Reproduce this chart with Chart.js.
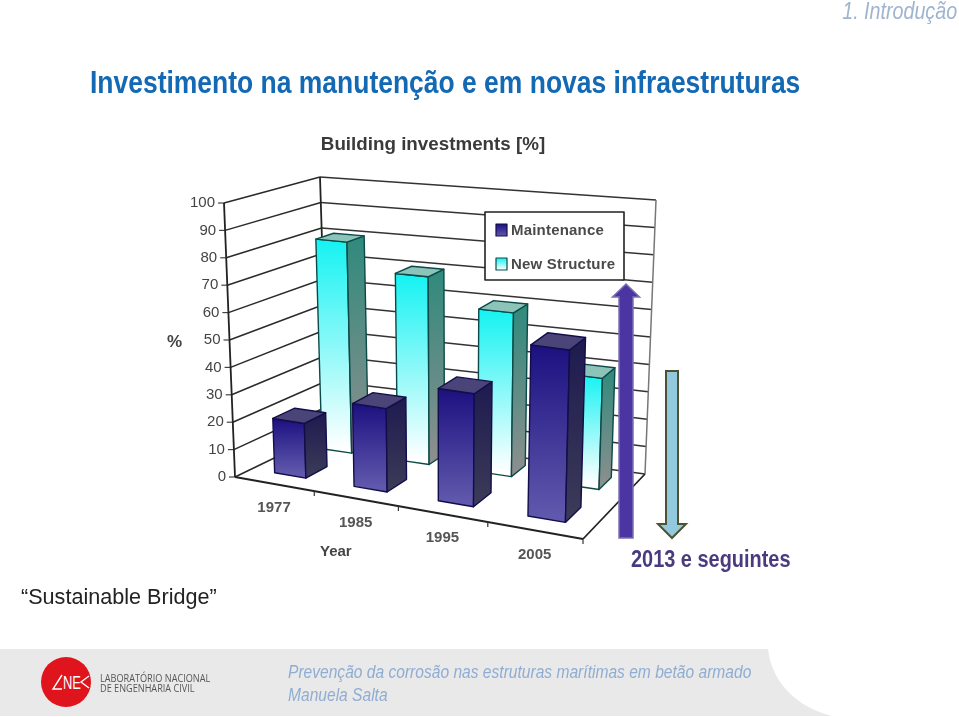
<!DOCTYPE html>
<html>
<head>
  <meta charset="UTF-8" />
  <title>Investimento na manutenção e em novas infraestruturas</title>
  <script src="https://cdn.jsdelivr.net/npm/chart.js"></script>
  <style>
    html, body { margin: 0; padding: 0; background: white; overflow: hidden; width: 959px; height: 717px; }
    body { position: relative; font-family: 'Liberation Sans', Arial, sans-serif; }
    .txt { position: absolute; white-space: nowrap; line-height: 1; }
    /* no narrow font installed, so squeeze Liberation Sans instead */
    .narrow { transform: scaleX(0.82); transform-origin: left center; }
    #section { right: 2px; top: -1px; font-size: 24px; font-style: italic; color: #9fb4cf; transform-origin: right center; }
    #heading { left: 90px; top: 66px; font-size: 32px; font-weight: bold; color: #1369b4; transform: scaleX(0.827); }
    #quote { left: 21px; top: 586px; font-size: 21.6px; color: #222; }
    #future { left: 631px; top: 547px; font-size: 24.3px; font-weight: bold; color: #4a3b7f; }
    #band { position: absolute; left: 0; top: 649px; width: 959px; height: 68px; }
    #talk { left: 288px; top: 662px; font-size: 19px; font-style: italic; color: #8fadd3; }
    #author { left: 288px; top: 685px; font-size: 19px; font-style: italic; color: #8fadd3; }
    #lab1, #lab2 { left: 100px; font-size: 10.5px; color: #555; font-family: 'Open Sans', sans-serif; transform: scaleX(0.87); transform-origin: left center; }
    #lab1 { top: 673px; }
    #lab2 { top: 683px; }
    #scoreChart { position: absolute; left: 0; top: 0; filter: blur(0.45px); }
    #shapes { position: absolute; left: 0; top: 0; }
  </style>
</head>
<body>
  <svg id="band" viewBox="0 649 959 68">
    <path d="M0 649 H768 C772 685 800 708 832 716 H0 Z" fill="#e9e9e9" />
    <circle cx="66" cy="682" r="25" fill="#e0141c" />
    <path d="M62 675 L53 689 H62 M89 676 L81 682 L89 688" fill="none" stroke="white" stroke-width="1.4" />
    <text x="63" y="689" font-family="Liberation Sans" font-size="19" fill="white" textLength="18" lengthAdjust="spacingAndGlyphs">NE</text>
  </svg>
  <canvas id="scoreChart" width="866" height="600"></canvas>
  <svg id="shapes" width="959" height="717">
    <path d="M619 538 V297 H612.5 L626 284 L639.5 297 H633 V538 Z" fill="#4a35a2" stroke="#7f6fb2" stroke-width="1.5" />
    <path d="M666 371 H678 V524 H686 L672 538 L658 524 H666 Z" fill="#92c9dd" stroke="#4d5233" stroke-width="2" />
  </svg>
  <div class="txt narrow" id="section">1. Introdução</div>
  <div class="txt narrow" id="heading">Investimento na manutenção e em novas infraestruturas</div>
  <div class="txt" id="quote">“Sustainable Bridge”</div>
  <div class="txt narrow" id="future">2013 e seguintes</div>
  <div class="txt narrow" id="talk">Prevenção da corrosão nas estruturas marítimas em betão armado</div>
  <div class="txt narrow" id="author">Manuela Salta</div>
  <div class="txt" id="lab1">LABORATÓRIO NACIONAL</div>
  <div class="txt" id="lab2">DE ENGENHARIA CIVIL</div>

  <script>
    const years = ['1977', '1985', '1995', '2005'];
    const maintenance = [20, 30, 40, 60];
    const newStructure = [80, 70, 60, 40];
    const yTicks = [0, 10, 20, 30, 40, 50, 60, 70, 80, 90, 100];

    // corners of the 3D box on the page, front/back, left/right, value 0 and 100
    const box = {
      fl0: [235, 477], fl1: [224, 203], bl0: [328, 432], bl1: [320, 177],
      br0: [645, 474], br1: [656, 200], fr0: [583, 539], fr1: [591, 247]
    };
    const lerp = (a, b, t) => [a[0] + (b[0] - a[0]) * t, a[1] + (b[1] - a[1]) * t];

    // u across the years, v up the value axis, w into the picture
    function project(u, v, w) {
      const p = u / (u + (1 - u) * 1.13);   // foreshortening of the year axis
      const front = lerp(lerp(box.fl0, box.fl1, v), lerp(box.fr0, box.fr1, v), p);
      const back = lerp(lerp(box.bl0, box.bl1, v), lerp(box.br0, box.br1, v), p);
      return lerp(front, back, w);
    }

    function poly(ctx, pts, fill, stroke) {
      ctx.beginPath();
      pts.forEach((p, i) => i ? ctx.lineTo(p[0], p[1]) : ctx.moveTo(p[0], p[1]));
      ctx.closePath();
      if (fill) { ctx.fillStyle = fill; ctx.fill(); }
      if (stroke) { ctx.strokeStyle = stroke; ctx.stroke(); }
    }

    function line(ctx, a, b, color, width) {
      ctx.beginPath();
      ctx.moveTo(a[0], a[1]);
      ctx.lineTo(b[0], b[1]);
      ctx.strokeStyle = color;
      ctx.lineWidth = width;
      ctx.stroke();
    }

    function vGrad(ctx, y0, y1, c0, c1) {
      const g = ctx.createLinearGradient(0, y0, 0, y1);
      g.addColorStop(0, c0);
      g.addColorStop(1, c1);
      return g;
    }

    const rows = [
      { dataset: 1, w0: 0.70, w1: 0.89, edge: '#0b4a48', front: ['#14f2f2', '#ffffff'], side: ['#2f8a7c', '#8f8f8f'], top: '#8cc4ba' },
      { dataset: 0, w0: 0.18, w1: 0.42, edge: '#120e4a', front: ['#1c1080', '#6058ac'], side: ['#1e1a50', '#3c3c58'], top: '#4a4478' }
    ];

    const box3d = {
      id: 'box3d',
      afterDatasetsDraw(chart) {
        const ctx = chart.ctx;
        const xs = chart.scales.x, ys = chart.scales.y;
        const toU = px => (px - xs.left) / xs.width;
        const toV = px => (ys.bottom - px) / ys.height;
        const pitch = xs.width / years.length;

        ctx.save();
        ctx.lineJoin = 'round';

        // walls and floor
        yTicks.forEach(t => {
          const v = toV(ys.getPixelForValue(t));
          line(ctx, project(0, v, 0), project(0, v, 1), '#2a2a2a', 1.5);
          line(ctx, project(0, v, 1), project(1, v, 1), '#333333', 1.5);
          const a = project(0, v, 0);
          line(ctx, [a[0] - 6, a[1]], a, '#444444', 1.2);
          ctx.font = '15px "Liberation Sans"';
          ctx.fillStyle = '#444444';
          ctx.textAlign = 'right';
          ctx.textBaseline = 'middle';
          ctx.fillText(String(t), a[0] - 9, a[1]);
        });
        line(ctx, project(0, 0, 0), project(0, 1, 0), '#222222', 1.8);
        line(ctx, project(0, 0, 1), project(0, 1, 1), '#222222', 1.8);
        line(ctx, project(1, 0, 1), project(1, 1, 1), '#777777', 1.5);
        line(ctx, project(0, 0, 0), project(1, 0, 0), '#222222', 1.8);
        line(ctx, project(1, 0, 0), project(1, 0, 1), '#222222', 1.8);

        // year ticks and labels on the front edge of the floor
        years.forEach((y, i) => {
          const cx = xs.getPixelForValue(i);
          const c = project(toU(cx), 0, 0);
          ctx.font = 'bold 15px "Liberation Sans"';
          ctx.fillStyle = '#555555';
          ctx.textAlign = 'center';
          ctx.textBaseline = 'middle';
          ctx.fillText(y, c[0], c[1] + 24);
          const e = project(toU(cx + pitch / 2), 0, 0);
          line(ctx, e, [e[0], e[1] + 5], '#333333', 1.2);
        });

        // bars, back row first
        rows.forEach(r => {
          chart.getDatasetMeta(r.dataset).data.forEach(bar => {
            const u0 = toU(bar.x - bar.width / 2), u1 = toU(bar.x + bar.width / 2);
            const v = toV(bar.y);
            const a = project(u0, 0, r.w0), b = project(u1, 0, r.w0), c = project(u1, 0, r.w1);
            const d = project(u0, v, r.w0), e = project(u1, v, r.w0), f = project(u1, v, r.w1), g = project(u0, v, r.w1);
            ctx.lineWidth = 1.4;
            poly(ctx, [a, b, e, d], vGrad(ctx, d[1], a[1], r.front[0], r.front[1]), r.edge);
            poly(ctx, [b, c, f, e], vGrad(ctx, f[1], b[1], r.side[0], r.side[1]), r.edge);
            poly(ctx, [d, e, f, g], r.top, r.edge);
          });
        });

        // legend, from the dataset labels
        ctx.lineWidth = 1.6;
        poly(ctx, [[485, 212], [624, 212], [624, 280], [485, 280]], 'white', '#222222');
        ctx.font = 'bold 15px "Liberation Sans"';
        ctx.letterSpacing = '0.2px';
        ctx.textAlign = 'left';
        ctx.textBaseline = 'middle';
        chart.data.datasets.forEach((ds, i) => {
          const y = 224 + i * 34;
          ctx.lineWidth = 1.2;
          poly(ctx, [[496, y], [507, y], [507, y + 12], [496, y + 12]],
            vGrad(ctx, y, y + 12, ds.legendColors[0], ds.legendColors[1]), ds.legendEdge);
          ctx.fillStyle = '#4a4a4a';
          ctx.fillText(ds.label, 511, y + 7);
        });
        ctx.letterSpacing = '0px';

        // axis titles
        ctx.fillStyle = '#444444';
        ctx.font = 'bold 17px "Liberation Sans"';
        ctx.fillText('%', 167, 342);
        ctx.font = 'bold 15px "Liberation Sans"';
        ctx.fillText('Year', 320, 552);
        ctx.restore();
      }
    };

    new Chart(document.getElementById('scoreChart').getContext('2d'), {
      type: 'bar',
      data: {
        labels: years,
        datasets: [
          { label: 'Maintenance', data: maintenance, backgroundColor: 'transparent', legendColors: ['#1c1080', '#6058ac'], legendEdge: '#120e4a' },
          { label: 'New Structure', data: newStructure, backgroundColor: 'transparent', legendColors: ['#14f2f2', '#ffffff'], legendEdge: '#0b4a48' }
        ]
      },
      options: {
        responsive: false,
        animation: false,
        datasets: { bar: { grouped: false, barPercentage: 0.4, categoryPercentage: 1 } },
        layout: { padding: { left: 20, right: 20, bottom: 20 } },
        plugins: {
          legend: { display: false },
          tooltip: { enabled: false },
          title: {
            display: true,
            text: 'Building investments [%]',
            color: '#3a3a3a',
            font: { family: 'Liberation Sans', size: 18.8, weight: 'bold' },
            padding: { top: 134, bottom: 10 }
          }
        },
        scales: {
          x: { display: false },
          y: { display: false, min: 0, max: 100 }
        }
      },
      plugins: [box3d]
    });
  </script>
</body>
</html>
